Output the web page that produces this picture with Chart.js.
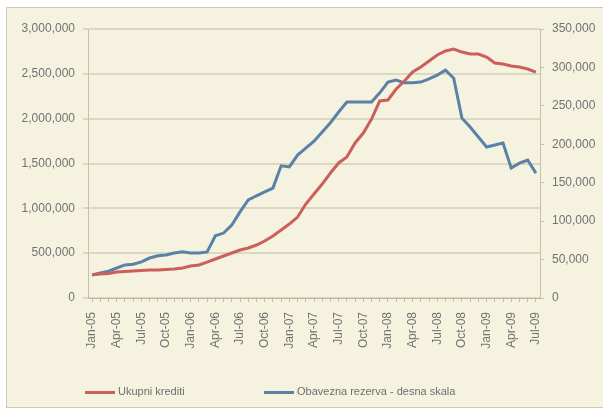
<!DOCTYPE html>
<html>
<head>
<meta charset="utf-8">
<script src="https://cdn.jsdelivr.net/npm/chart.js@4/dist/chart.umd.min.js"></script>
<style>
    html, body { margin: 0; padding: 0; background: #ffffff; overflow: hidden; }
    #frame {
        position: absolute; left: 6px; top: 7px; width: 620px; height: 399px;
        background: #f5f2e0; border: 1px solid #cdc9b3;
    }
    #chart { position: absolute; left: 0; top: 0; }
    .legend-item {
        position: absolute; top: 385px; height: 14px;
        font: 11px "Liberation Sans", Arial, sans-serif; color: #6e6e6e;
        white-space: nowrap;
    }
    .legend-line { display: inline-block; width: 30px; height: 3px; vertical-align: middle; margin-right: 3px; }
</style>
</head>
<body>
<div id="frame"></div>
<canvas id="chart" width="603" height="408"></canvas>
<div class="legend-item" style="left:85px"><span class="legend-line" style="background:#cc5f5b"></span>Ukupni krediti</div>
<div class="legend-item" style="left:264px"><span class="legend-line" style="background:#5a82a6"></span>Obavezna rezerva - desna skala</div>
<script>
// Monthly categories, Jan-05 .. Jul-09
const months = [
    'Jan-05', 'Feb-05', 'Mar-05', 'Apr-05', 'May-05', 'Jun-05', 'Jul-05', 'Aug-05', 'Sep-05', 'Oct-05', 'Nov-05', 'Dec-05',
    'Jan-06', 'Feb-06', 'Mar-06', 'Apr-06', 'May-06', 'Jun-06', 'Jul-06', 'Aug-06', 'Sep-06', 'Oct-06', 'Nov-06', 'Dec-06',
    'Jan-07', 'Feb-07', 'Mar-07', 'Apr-07', 'May-07', 'Jun-07', 'Jul-07', 'Aug-07', 'Sep-07', 'Oct-07', 'Nov-07', 'Dec-07',
    'Jan-08', 'Feb-08', 'Mar-08', 'Apr-08', 'May-08', 'Jun-08', 'Jul-08', 'Aug-08', 'Sep-08', 'Oct-08', 'Nov-08', 'Dec-08',
    'Jan-09', 'Feb-09', 'Mar-09', 'Apr-09', 'May-09', 'Jun-09', 'Jul-09'
];

// Ukupni krediti (left scale)
const ukupniKrediti = [
    258000, 268000, 273000, 290000, 295000, 301000, 307000, 312000, 312000, 318000, 323000, 335000,
    357000, 368000, 401000, 435000, 468000, 502000, 535000, 558000, 591000, 636000, 691000, 758000,
    825000, 903000, 1048000, 1160000, 1271000, 1394000, 1506000, 1572000, 1729000, 1840000, 1996000, 2197000,
    2208000, 2331000, 2420000, 2520000, 2576000, 2643000, 2710000, 2755000, 2777000, 2743000, 2721000, 2721000,
    2688000, 2621000, 2610000, 2587000, 2576000, 2554000, 2520000
];

// Obavezna rezerva (right scale)
const obaveznaRezerva = [
    30000, 32500, 35000, 39000, 43000, 44000, 47000, 52000, 55000, 56000, 58500, 60000,
    58500, 58500, 60000, 81000, 84500, 95000, 112000, 127500, 133000, 138000, 143000, 172000,
    170500, 186000, 195000, 204000, 216000, 228000, 242000, 255000, 255000, 255000, 255000, 267000,
    281000, 283600, 280000, 280000, 281000, 285000, 290000, 296500, 286000, 234000, 222500, 209500,
    196500, 199000, 201500, 169000, 175500, 179500, 162500
];

const leftTicks = [0, 500000, 1000000, 1500000, 2000000, 2500000, 3000000];
const rightTicks = [0, 50000, 100000, 150000, 200000, 250000, 300000, 350000];

const tickFont = { family: '"Liberation Sans", Arial, sans-serif', size: 12 };
const tickColor = '#727272';

function fmt(v) {
    return Number(v).toLocaleString('en-US');
}

const ctx = document.getElementById('chart').getContext('2d');
new Chart(ctx, {
    type: 'line',
    data: {
        labels: months,
        datasets: [{
            label: 'Ukupni krediti',
            data: ukupniKrediti,
            borderColor: '#cc5f5b',
            borderWidth: 3,
            pointRadius: 0,
            tension: 0,
            yAxisID: 'y'
        }, {
            label: 'Obavezna rezerva - desna skala',
            data: obaveznaRezerva,
            borderColor: '#5a82a6',
            borderWidth: 3,
            pointRadius: 0,
            tension: 0,
            yAxisID: 'y1'
        }]
    },
    options: {
        responsive: false,
        animation: false,
        devicePixelRatio: 1,
        layout: { padding: { top: 29, left: 0, right: 0, bottom: 0 } },
        plugins: {
            legend: { display: false },
            tooltip: { enabled: false }
        },
        scales: {
            x: {
                offset: true,
                grid: { drawOnChartArea: false, drawTicks: true, tickLength: 4, color: '#c4c0aa' },
                border: { color: '#bdb9a3' },
                ticks: {
                    autoSkip: false,
                    maxRotation: 90,
                    minRotation: 90,
                    padding: 10,
                    font: tickFont,
                    color: tickColor,
                    callback: (v, i) => (i % 3 === 0 ? months[i] : '')
                },
                afterFit: (scale) => { scale.height = 110; }
            },
            y: {
                position: 'left',
                min: leftTicks[0],
                max: leftTicks[leftTicks.length - 1],
                afterBuildTicks: (scale) => { scale.ticks = leftTicks.map(v => ({ value: v })); },
                grid: { color: '#dbd7c1', lineWidth: 2, tickLength: 5 },
                border: { color: '#c4c0aa' },
                ticks: { font: tickFont, color: tickColor, padding: 8, callback: fmt },
                afterFit: (scale) => { scale.width = 88; }
            },
            y1: {
                position: 'right',
                min: rightTicks[0],
                max: rightTicks[rightTicks.length - 1],
                afterBuildTicks: (scale) => { scale.ticks = rightTicks.map(v => ({ value: v })); },
                grid: { drawOnChartArea: false, tickLength: 4, color: '#c4c0aa' },
                border: { color: '#c4c0aa' },
                ticks: { font: tickFont, color: tickColor, padding: 8, callback: fmt },
                afterFit: (scale) => { scale.width = 63; }
            }
        }
    }
});
</script>
</body>
</html>
